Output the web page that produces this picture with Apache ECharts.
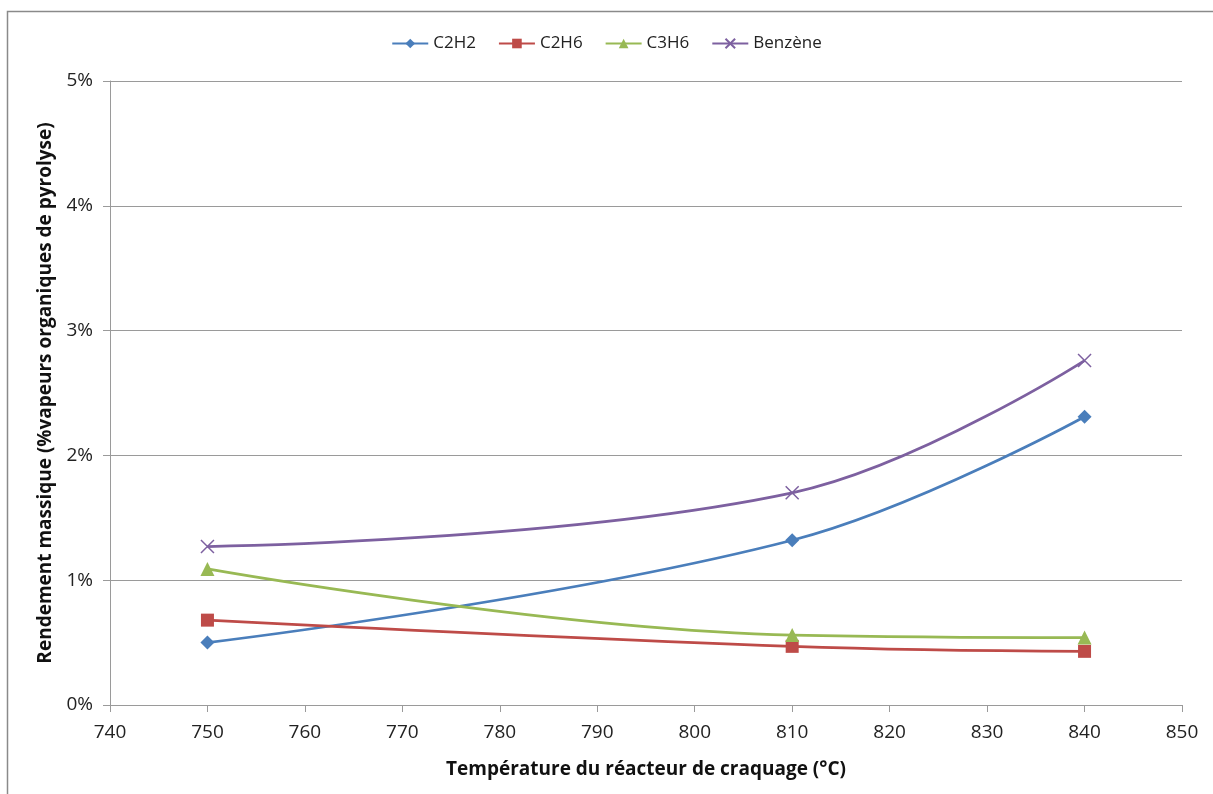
<!DOCTYPE html>
<html><head><meta charset="utf-8">
<script src="https://cdn.jsdelivr.net/npm/echarts@6/dist/echarts.min.js"></script>
<style>html,body{margin:0;padding:0;background:#fff}#c{width:1213px;height:794px}</style>
</head><body><div id="c"></div>
<script>
const temperatures = [750, 810, 840];
const c2h2 = [0.50, 1.32, 2.31];
const c2h6 = [0.68, 0.47, 0.43];
const c3h6 = [1.09, 0.56, 0.54];
const benzene = [1.27, 1.70, 2.76];
const seriesNames = ['C2H2', 'C2H6', 'C3H6', 'Benzène'];
const xTitle = 'Température du réacteur de craquage (°C)';
const yTitle = 'Rendement massique (%vapeurs organiques de pyrolyse)';

const FONT = '"Open Sans", "Noto Sans", sans-serif';
const pair = arr => temperatures.map((t, i) => [t, arr[i]]);
const cross = 'path://M0,0L10,10M10,0L0,10';
function mk(name, data, color, symbol, size, extra) {
  return Object.assign({
    name, type: 'line', data: pair(data), smooth: 0.4,
    symbol, symbolSize: size, showSymbol: true,
    lineStyle: { color, width: 2.75 },
    itemStyle: { color, borderColor: color, borderWidth: 0 },
    z: 3
  }, extra || {});
}
const chart = echarts.init(document.getElementById('c'), null, { renderer: 'canvas' });
chart.setOption({
  animation: false,
  textStyle: { fontFamily: FONT },
  graphic: [
    { type: 'polyline', shape: { points: [[7.5, 794], [7.5, 11.5], [1213, 11.5]] },
      style: { stroke: '#8a8a8a', lineWidth: 1.5, fill: null } }
  ],
  legend: {
    top: 30, left: 'center', itemWidth: 36, itemHeight: 12, itemGap: 22,
    textStyle: { fontSize: 17, color: '#222', fontFamily: FONT },
    data: seriesNames
  },
  grid: { left: 110, right: 31, top: 81, bottom: 89 },
  xAxis: {
    type: 'value', min: 740, max: 850, interval: 10,
    name: xTitle, nameLocation: 'middle', nameGap: 55,
    nameTextStyle: { fontSize: 19, fontWeight: 'bold', color: '#111', fontFamily: FONT },
    axisLine: { show: true, onZero: false, lineStyle: { color: '#9a9a9a', width: 1 } },
    axisTick: { show: true, length: 7, lineStyle: { color: '#9a9a9a' } },
    axisLabel: { fontSize: 19, color: '#222', margin: 18 },
    splitLine: { show: false }
  },
  yAxis: {
    type: 'value', min: 0, max: 5, interval: 1,
    name: yTitle, nameLocation: 'middle', nameGap: 55, nameRotate: 90,
    nameTextStyle: { fontSize: 19, fontWeight: 'bold', color: '#111', fontFamily: FONT },
    axisLine: { show: true, lineStyle: { color: '#9a9a9a', width: 1 } },
    axisTick: { show: true, length: 7, lineStyle: { color: '#9a9a9a' } },
    axisLabel: { fontSize: 19, color: '#222', margin: 17, formatter: '{value}%' },
    splitLine: { show: true, lineStyle: { color: '#9a9a9a', width: 1 } }
  },
  series: [
    mk('C2H2', c2h2, '#4a7ebb', 'diamond', 14),
    mk('C2H6', c2h6, '#be4b48', 'rect', 13),
    mk('C3H6', c3h6, '#98b954', 'triangle', 14),
    mk('Benzène', benzene, '#7d60a0', cross, 13, {
      itemStyle: { color: '#7d60a0', borderColor: '#7d60a0', borderWidth: 1.5 }
    })
  ]
});
</script></body></html>
